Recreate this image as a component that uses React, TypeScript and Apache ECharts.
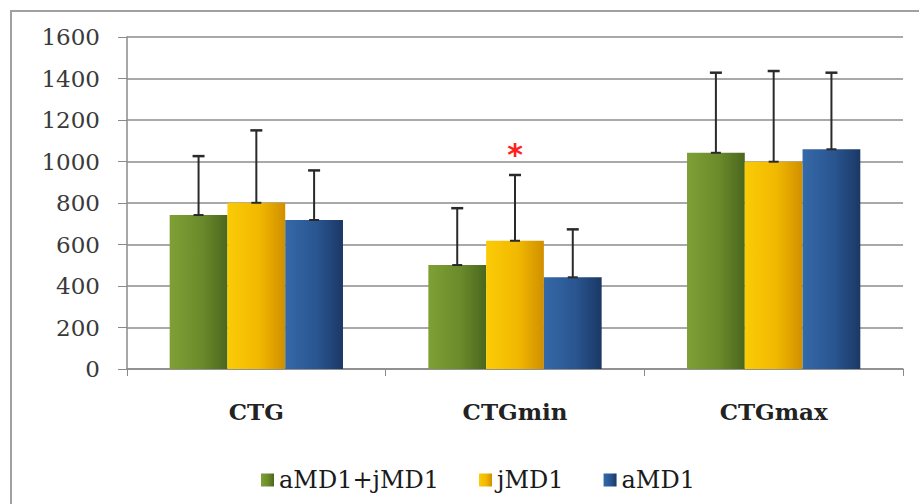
import React, { useEffect, useRef } from "react";
import * as echarts from "echarts";

const categories = ["CTG", "CTGmin", "CTGmax"];
const seriesNames = ["aMD1+jMD1", "jMD1", "aMD1"];
const meanAll = [742, 501, 1042];
const meanJ = [801, 618, 999];
const meanA = [718, 442, 1059];
const errAll = [284, 274, 386];
const errJ = [349, 317, 437];
const errA = [239, 231, 369];
const sigJ = ["", "*", ""];
const yTicks = [0, 1600, 200];

const means = [meanAll, meanJ, meanA];
const errs = [errAll, errJ, errA];
const sigs = [["", "", ""], sigJ, ["", "", ""]];

const gradients = [
  ["#7f9f36", "#6b8b2b", "#4a671d"],
  ["#fbcb06", "#f1b800", "#d08f00"],
  ["#3569a8", "#295590", "#1b3865"],
];

const SERIF = "'DejaVu Serif', 'Liberation Serif', serif";
const GAP = 0.33;

export default function App() {
  const ref = useRef<HTMLDivElement>(null);
  useEffect(() => {
    const chart = echarts.init(ref.current!, null, { renderer: "svg" });
    const grad = (c: string[]) =>
      new echarts.graphic.LinearGradient(0, 0, 1, 0, [
        { offset: 0, color: c[0] },
        { offset: 0.55, color: c[1] },
        { offset: 1, color: c[2] },
      ]);
    const barSeries = seriesNames.map((name, i) => ({
      name,
      type: "bar",
      data: means[i],
      barGap: "0%",
      barCategoryGap: GAP * 100 + "%",
      itemStyle: { color: grad(gradients[i]) },
      z: 2,
    }));
    const errData: number[][] = [];
    means.forEach((m, s) =>
      m.forEach((v, c) => errData.push([c, v, v + errs[s][c], s]))
    );
    const errSeries = {
      type: "custom",
      name: "err",
      z: 5,
      data: errData,
      renderItem: (params: any, api: any) => {
        const c = api.value(0);
        const s = api.value(3);
        const band = api.size([1, 0])[0];
        const bw = (band * (1 - GAP)) / 3;
        const base = api.coord([c, api.value(1)]);
        const top = api.coord([c, api.value(2)]);
        const x = base[0] + (s - 1) * bw;
        const children: any[] = [
          {
            type: "line",
            shape: { x1: x, y1: base[1], x2: x, y2: top[1] },
            style: { stroke: "#2a2a2a", lineWidth: 2 },
          },
          {
            type: "line",
            shape: { x1: x - 6, y1: top[1], x2: x + 6, y2: top[1] },
            style: { stroke: "#2a2a2a", lineWidth: 2.5 },
          },
          {
            type: "line",
            shape: { x1: x - 5, y1: base[1], x2: x + 5, y2: base[1] },
            style: { stroke: "#2a2a2a", lineWidth: 2 },
          },
        ];
        const sg = sigs[s][c];
        if (sg) {
          children.push({
            type: "text",
            style: {
              text: sg,
              x: x,
              y: top[1] - 20,
              fill: "#ff2020",
              font: "bold 30px 'DejaVu Sans', sans-serif",
              align: "center",
              verticalAlign: "middle",
            },
          });
        }
        return { type: "group", children };
      },
    };
    chart.setOption({
      animation: false,
      backgroundColor: "#ffffff",
      graphic: [
        {
          type: "rect",
          shape: { x: 11, y: 11, width: 1200, height: 1200 },
          style: { fill: "none", stroke: "#a0a0a0", lineWidth: 2 },
          silent: true,
        },
      ],
      grid: { left: 127, right: 16, top: 37, bottom: 135 },
      legend: {
        data: seriesNames,
        left: 256,
        top: 463,
        icon: "rect",
        itemWidth: 13,
        itemHeight: 13,
        itemGap: 40,
        textStyle: { fontFamily: SERIF, fontSize: 24, color: "#1a1a1a" },
      },
      xAxis: {
        type: "category",
        data: categories,
        axisLine: { lineStyle: { color: "#8a8a8a", width: 1.5 } },
        axisTick: { show: true, length: 7, lineStyle: { color: "#8a8a8a" } },
        axisLabel: {
          margin: 31,
          fontFamily: SERIF,
          fontWeight: "bold",
          fontSize: 23,
          color: "#222",
        },
      },
      yAxis: {
        type: "value",
        min: yTicks[0],
        max: yTicks[1],
        interval: yTicks[2],
        axisLine: { show: true, lineStyle: { color: "#8a8a8a", width: 1.5 } },
        axisTick: { show: true, length: 9, lineStyle: { color: "#8a8a8a" } },
        splitLine: { lineStyle: { color: "#8c8c8c", width: 1.5 } },
        axisLabel: {
          margin: 27,
          fontFamily: SERIF,
          fontSize: 23,
          color: "#3a3a3a",
          formatter: (v: number) => String(v),
        },
      },
      series: [...barSeries, errSeries],
    });
    return () => chart.dispose();
  }, []);
  return (
    <div
      ref={ref}
      style={{ position: "absolute", left: 0, top: 0, width: 919, height: 504 }}
    />
  );
}
